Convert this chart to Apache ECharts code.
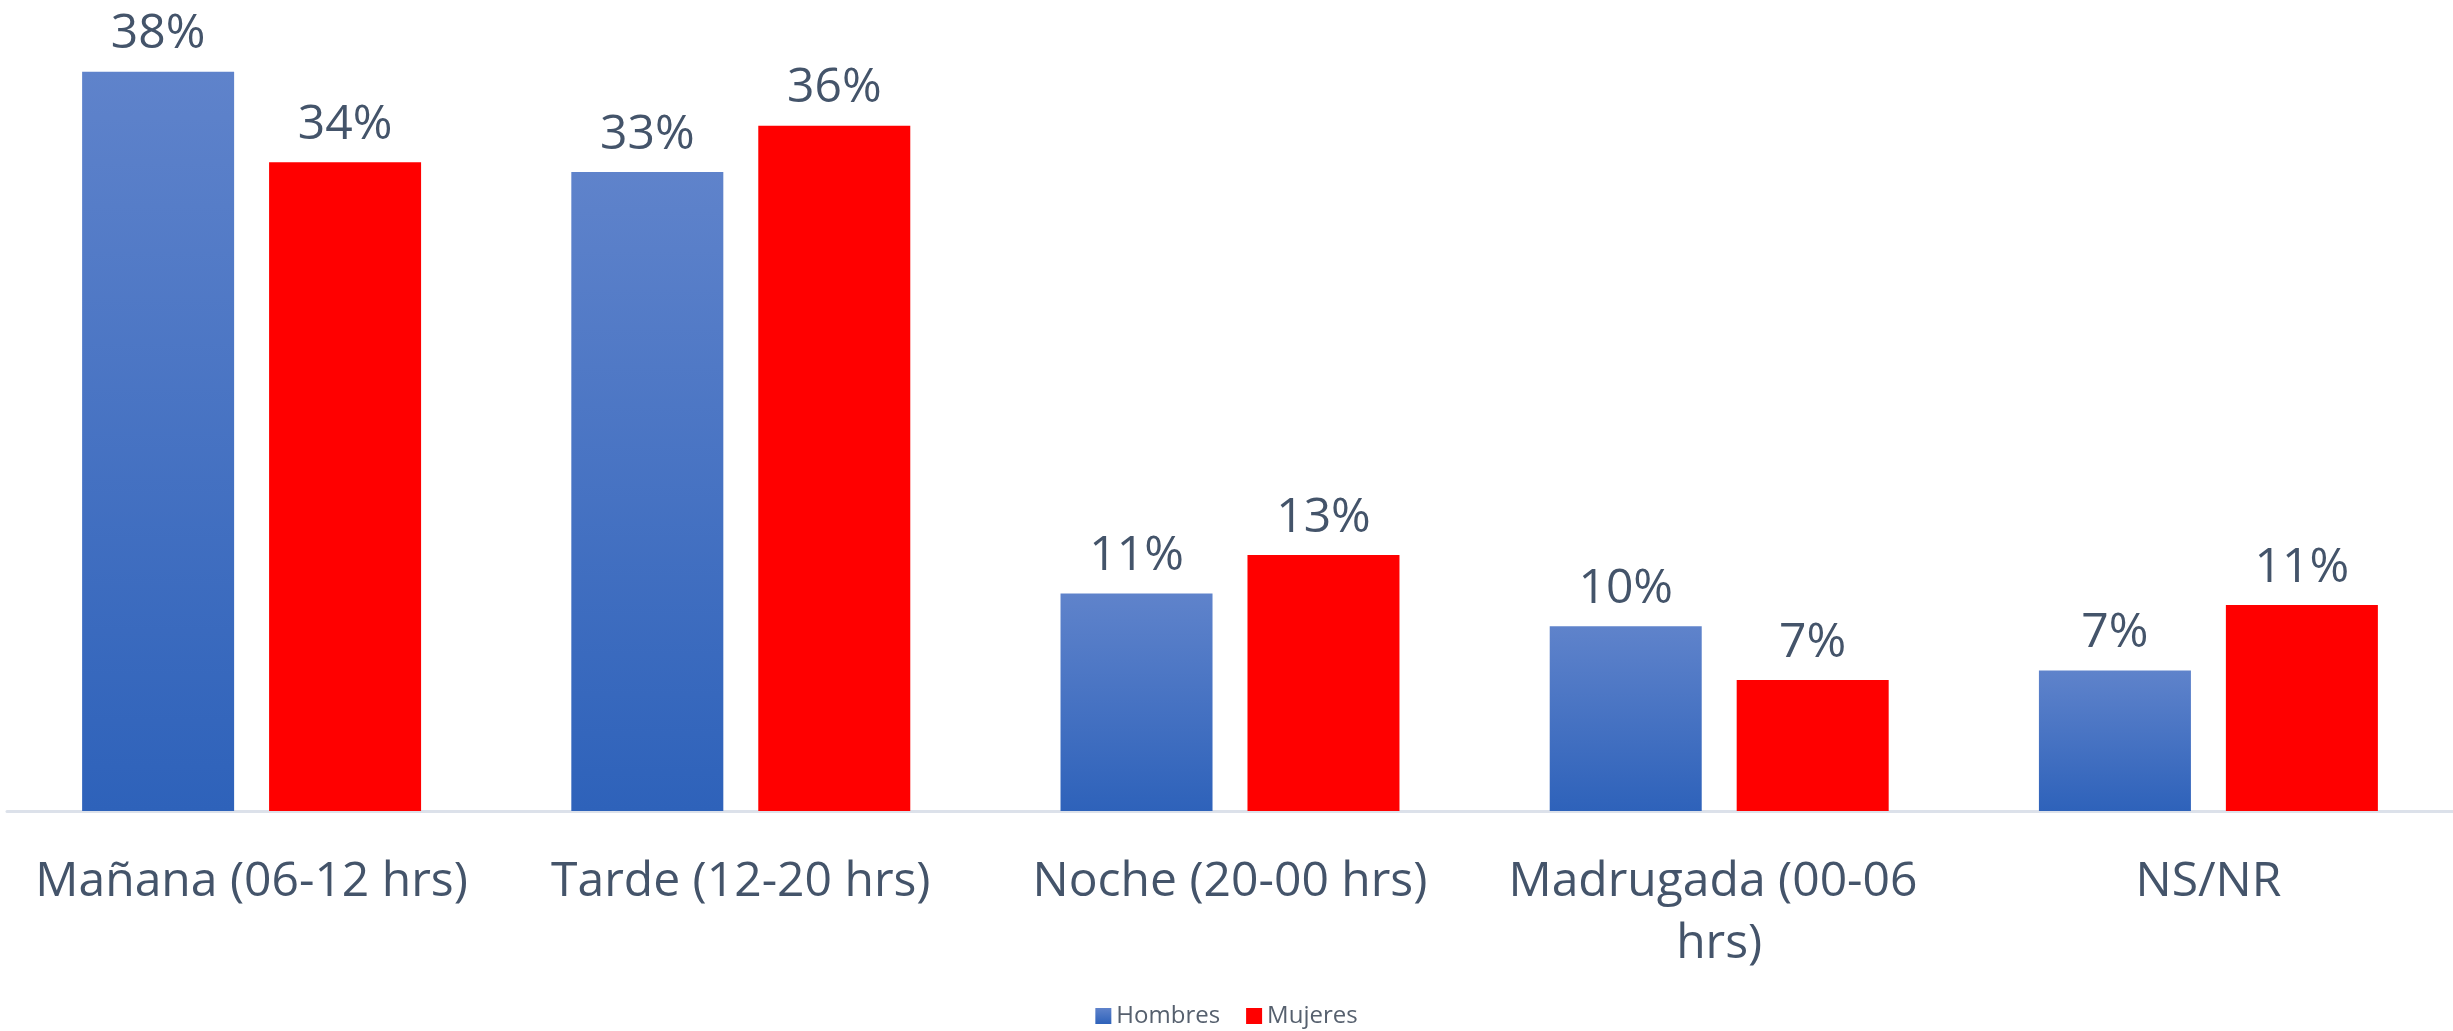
<!DOCTYPE html>
<html>
<head>
<meta charset="utf-8">
<script src="https://cdn.jsdelivr.net/npm/echarts@6/dist/echarts.min.js"></script>
<style>
  html, body { margin: 0; padding: 0; background: #fff; }
  #chart { width: 2453px; height: 1031px; }
</style>
</head>
<body>
<div id="chart"></div>
<script>
const CATEGORIES = [
    'Mañana (06-12 hrs)', 'Tarde (12-20 hrs)', 'Noche (20-00 hrs)',
    'Madrugada (00-06 hrs)', 'NS/NR',
];
const HOMBRES = [38.4, 33.2, 11.3, 9.6, 7.3];
const MUJERES = [33.7, 35.6, 13.3, 6.8, 10.7];

const TEXT = '#44546A';
const FONT = '"Open Sans", "Noto Sans", sans-serif';

const blueFill = new echarts.graphic.LinearGradient(0, 0, 0, 1, [
    { offset: 0, color: '#5F83CB' },
    { offset: 1, color: '#2E62BA' },
]);

const pctLabel = {
    show: true,
    position: 'top',
    distance: 13,
    color: TEXT,
    fontFamily: FONT,
    fontSize: 48,
    formatter: p => Math.round(p.value) + '%',
};

const chart = echarts.init(document.getElementById('chart'));
chart.setOption({
    animation: false,
    textStyle: { fontFamily: FONT },
    grid: { left: 7, right: 0, top: 41, bottom: 220 },
    legend: {
        top: 1004,
        left: 'center',
        padding: 0,
        icon: 'rect',
        itemWidth: 16,
        itemHeight: 16,
        itemGap: 26,
        textStyle: { color: '#56606E', fontSize: 24, fontFamily: FONT },
        data: ['Hombres', 'Mujeres'],
    },
    xAxis: {
        type: 'category',
        data: CATEGORIES,
        axisLine: { lineStyle: { color: '#DCE1EA', width: 3 } },
        axisTick: { show: false },
        axisLabel: {
            color: TEXT,
            fontSize: 48,
            lineHeight: 62,
            margin: 40,
            width: 460,
            overflow: 'break',
            interval: 0,
        },
    },
    yAxis: { type: 'value', min: 0, max: 40, show: false },
    series: [
        {
            name: 'Hombres',
            type: 'bar',
            data: HOMBRES,
            barWidth: 152,
            barGap: '23%',
            itemStyle: { color: blueFill },
            label: pctLabel,
        },
        {
            name: 'Mujeres',
            type: 'bar',
            data: MUJERES,
            barWidth: 152,
            itemStyle: { color: '#FF0000' },
            label: pctLabel,
        },
    ],
});
</script>
</body>
</html>
